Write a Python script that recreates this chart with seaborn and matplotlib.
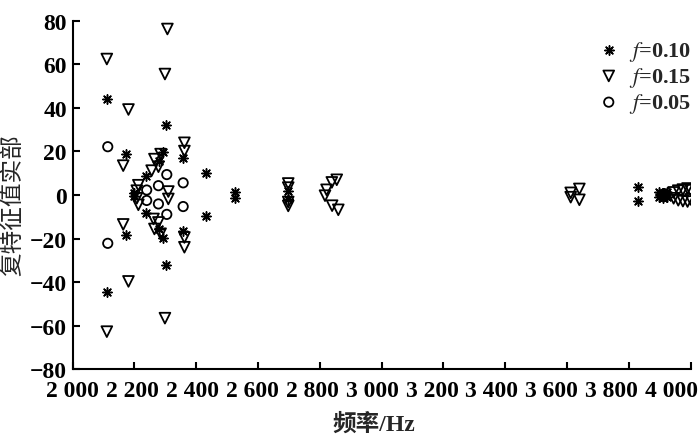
import matplotlib
matplotlib.use("Agg")
import matplotlib.pyplot as plt
import matplotlib.transforms as mtransforms
import seaborn as sns
import pandas as pd
from matplotlib.ticker import FuncFormatter

sns.set_theme(style="ticks")
plt.rcParams['font.family'] = ['Liberation Serif', 'Noto Sans CJK SC']
plt.rcParams['mathtext.fontset'] = 'stix'

# f=0.10 (asterisks)
star_x = [2111, 2111, 2173, 2173, 2199, 2199, 2238, 2238, 2280, 2280, 2292, 2292,
          2303, 2303, 2358, 2358, 2432, 2432, 2526, 2526, 2698, 2698,
          3831, 3831, 3897, 3897, 3910, 3910, 3925, 3925]
star_y = [44.2, -44.4, 18.7, -18.4, 0.8, -0.5, 8.9, -8.4, 15.8, -15.6, 19.9, -19.9,
          32.3, -32.2, 16.8, -16.4, 10.0, -9.5, 1.2, -1.5, 2.0, -2.0,
          3.5, -2.6, 1.5, -1.0, 0.8, -1.5, 1.2, -0.8]

# f=0.15 (triangles)
tri_x = [2111, 2111, 2164, 2164, 2181, 2181, 2208, 2208, 2213, 2213,
         2256, 2262, 2265, 2265, 2278, 2278, 2285, 2285, 2299, 2299, 2307,
         2310, 2310, 2362, 2362, 2362, 2362, 2698, 2698, 2698, 2698,
         2822, 2817, 2839, 2840, 2855, 2860, 3612, 3612, 3640, 3640,
         3945, 3945, 3960, 3960, 3975, 3975, 3990, 3990, 4000, 4000]
tri_y = [62.5, -62.8, 13.5, -13.5, 39.3, -39.7, 2.0, -1.5, 4.5, -4.5,
         11.2, -11.0, 16.5, -15.6, 13.0, -12.6, 18.8, -17.8, 55.6, -56.6, 76.3,
         1.6, -1.8, 24.0, 20.2, -19.5, -24.0, 5.3, 3.4, -3.2, -5.0,
         2.4, -0.3, 5.8, -4.9, 7.0, -6.8, 1.0, -1.0, 2.8, -2.2,
         1.2, -1.5, 2.0, -2.4, 2.5, -2.8, 3.0, -3.0, 2.2, -2.0]

# f=0.05 (circles)
circ_x = [2114, 2114, 2240, 2240, 2278, 2278, 2305, 2305, 2358, 2358, 3915, 3915]
circ_y = [22.2, -22.2, 2.3, -2.5, 4.3, -4.1, 9.4, -8.9, 5.6, -5.3, 0.6, -0.6]

x_ticks = list(range(2000, 4001, 200))
y_ticks = list(range(-80, 81, 20))

df_star = pd.DataFrame({'freq': star_x, 'real': star_y})
df_tri = pd.DataFrame({'freq': tri_x, 'real': tri_y})
df_circ = pd.DataFrame({'freq': circ_x, 'real': circ_y})

fig = plt.figure(figsize=(7.0, 4.39), dpi=100)
ax = fig.add_axes([0.1036, 0.157, 0.883, 0.793])

sns.scatterplot(data=df_star, x='freq', y='real', ax=ax, marker=(8, 2, 0),
                s=45, color='black', linewidth=1.1, label=r'$f$=0.10')
sns.scatterplot(data=df_tri, x='freq', y='real', ax=ax, marker='v',
                s=60, facecolors='none', edgecolor='black', color='black',
                linewidth=1.3, label=r'$f$=0.15')
sns.scatterplot(data=df_circ, x='freq', y='real', ax=ax, marker='o',
                s=45, facecolors='none', edgecolor='black', color='black',
                linewidth=1.3, label=r'$f$=0.05')

ax.set_xlim(2000, 4000)
ax.set_ylim(-80, 80)
ax.set_xticks(x_ticks)
ax.set_yticks(y_ticks)
ax.xaxis.set_major_formatter(FuncFormatter(lambda v, p: f"{int(v) // 1000} {int(v) % 1000:03d}"))
ax.yaxis.set_major_formatter(FuncFormatter(lambda v, p: f"{int(v)}".replace('-', '\u2212')))

for side in ['top', 'right']:
    ax.spines[side].set_visible(False)
for side in ['left', 'bottom']:
    ax.spines[side].set_linewidth(1.5)
    ax.spines[side].set_color('black')
ax.tick_params(direction='in', length=5, width=1.5, colors='black', labelsize=17)
ax.tick_params(axis='x', pad=8)
ax.tick_params(axis='y', pad=4)
for lab in ax.get_xticklabels() + ax.get_yticklabels():
    lab.set_fontweight('bold')

# the original's x labels sit a little left of their ticks, more so to the right
for i, lab in enumerate(ax.get_xticklabels()):
    shift = mtransforms.ScaledTranslation(-i * 1.9 / 100, 0, fig.dpi_scale_trans)
    lab.set_transform(lab.get_transform() + shift)

ax.set_xlabel('频率/Hz', fontsize=17, fontweight='bold')
ax.set_ylabel('复特征值实部', fontsize=17)
ax.xaxis.set_label_coords(0.488, -0.125)
ax.yaxis.set_label_coords(-0.077, 0.474)

leg = ax.legend(loc='upper right', frameon=False, fontsize=16, handletextpad=0.4,
                labelspacing=0.1, borderaxespad=0.0, handlelength=1.0,
                bbox_to_anchor=(1.015, 0.975))
for t in leg.get_texts():
    t.set_fontweight('bold')

fig.savefig('out.png', dpi=100)
